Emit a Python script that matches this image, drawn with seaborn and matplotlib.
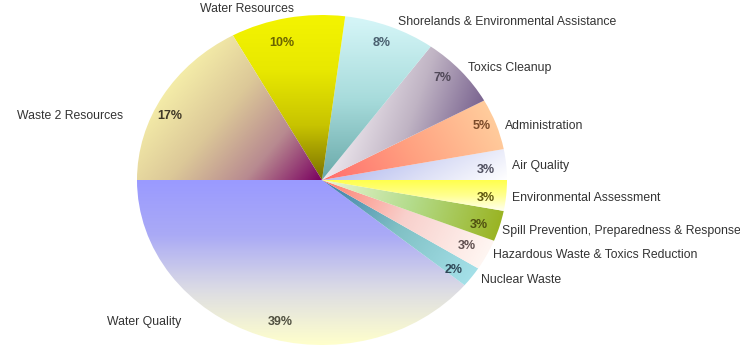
import numpy as np
import matplotlib.pyplot as plt
import seaborn as sns

programs = ['Water Quality', 'Nuclear Waste', 'Hazardous Waste & Toxics Reduction',
            'Spill Prevention, Preparedness & Response', 'Environmental Assessment',
            'Air Quality', 'Administration', 'Toxics Cleanup',
            'Shorelands & Environmental Assistance', 'Water Resources', 'Waste 2 Resources']
shares = [39, 2, 3, 3, 3, 3, 5, 7, 8, 10, 17]

# gradient fill of every wedge: colours along a direction (degrees)
grad_colors = [
    ['#9a9aff', '#aaaaf6', '#dcdce4', '#ffffcc'],
    ['#3a7aa8', '#80c0c4', '#a4e0e8'],
    ['#ff7a6a', '#f8d0cc', '#fff6f2'],
    ['#eaf6d6', '#b4dc8c', '#9ab424'],
    ['#ffff4c', '#ffff90', '#fffff0'],
    ['#b4bcf0', '#dcdff6', '#ffffff'],
    ['#ff6c6c', '#ffa080', '#ffcc9c'],
    ['#eee8ee', '#c0b4c4', '#7a6490'],
    ['#d6f6f8', '#a8dcdc', '#68a8a8'],
    ['#f4f400', '#e8e800', '#c8c400', '#7a7000'],
    ['#f4eca8', '#dcc898', '#b88a90', '#7a0060'],
]
grad_dir = [270, -36, -27, -16, 270, 300, 30, -20, 270, 270, -40]
pct_colors = ['#505040', '#304858', '#605050', '#505010', '#605810',
              '#505060', '#7a4a2a', '#504858', '#4a6070', '#6a6400', '#403828']

# label / percentage anchor points, in pixels of the 740x347 image
label_xy = [(107, 322), (481, 280), (493, 255), (502, 231), (512, 198),
            (512, 166), (505, 126), (468, 68), (398, 22), (200, 9), (17, 116)]
pct_xy = [(280, 322), (454, 270), (467, 246), (479, 225), (486, 198),
          (486, 170), (482, 126), (442, 78), (382, 43), (282, 43), (170, 116)]

W, H = 740, 347
CX, CY = 322, 180   # pie centre (pixels)
RX, RY = 185, 165   # pie radii (pixels)

sns.set_theme(style='white')
plt.rcParams['font.family'] = ['Liberation Sans', 'DejaVu Sans']


def px(x, y):
    """pixel position -> data coordinates"""
    return (x - CX) / RX, (CY - y) / RY


fig = plt.figure(figsize=(W / 100, H / 100), dpi=100)
ax = fig.add_axes([0, 0, 1, 1])

wedges, texts, autotexts = ax.pie(shares, labels=programs, autopct='%d%%',
                                  startangle=180, counterclock=True, radius=1,
                                  wedgeprops=dict(linewidth=0))

grid = np.linspace(-1, 1, 500)
gx, gy = np.meshgrid(grid, grid)
for w, cols, d in zip(wedges, grad_colors, grad_dir):
    th = np.radians(np.linspace(w.theta1, w.theta2, 60))
    ex = np.r_[0, np.cos(th)] * RX
    ey = np.r_[0, np.sin(th)] * RY
    ux, uy = np.cos(np.radians(d)), np.sin(np.radians(d))
    proj = ex * ux + ey * uy
    t = (gx * RX * ux + gy * RY * uy - proj.min()) / (proj.max() - proj.min())
    cmap = sns.blend_palette(cols, as_cmap=True)
    img = ax.imshow(np.clip(t, 0, 1), cmap=cmap, vmin=0, vmax=1,
                    extent=(-1, 1, -1, 1), origin='lower', aspect='auto',
                    interpolation='bilinear', zorder=1)
    img.set_clip_path(w)
    w.set_facecolor('none')

for txt, (x, y) in zip(texts, label_xy):
    txt.set_position(px(x, y))
    txt.set_ha('left')
    txt.set_va('center')
    txt.set_fontsize(8.8)
    txt.set_color('#333333')

for txt, (x, y), c in zip(autotexts, pct_xy, pct_colors):
    txt.set_position(px(x, y))
    txt.set_ha('center')
    txt.set_va('center')
    txt.set_fontsize(9)
    txt.set_fontweight('bold')
    txt.set_color(c)
    txt.set_zorder(5)

ax.set_aspect('auto')
ax.set_xlim(-CX / RX, (W - CX) / RX)
ax.set_ylim(-(H - CY) / RY, CY / RY)
ax.axis('off')

fig.savefig('out.png', dpi=100, facecolor='white')
